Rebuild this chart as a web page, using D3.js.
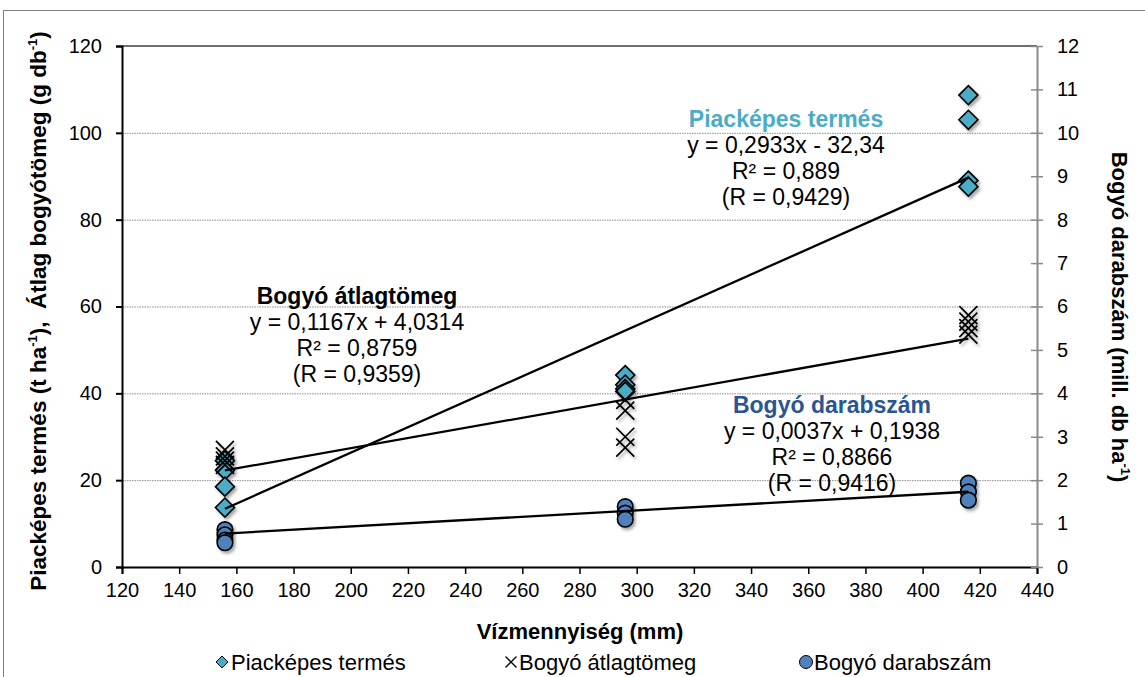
<!DOCTYPE html>
<html>
<head>
<meta charset="utf-8">
<script src="https://cdn.jsdelivr.net/npm/d3@7"></script>
<style>
  html, body { margin: 0; padding: 0; background: #fff; }
  svg { display: block; font-family: "Liberation Sans", Arial, sans-serif; }
</style>
</head>
<body>
<svg id="chart" width="1145" height="677"></svg>
<script>
// ---------- data ----------
const xTicks = [120, 140, 160, 180, 200, 220, 240, 260, 280, 300, 320, 340, 360, 380, 400, 420, 440];
const yLeftTicks = [0, 20, 40, 60, 80, 100, 120];
const yRightTicks = [0, 1, 2, 3, 4, 5, 6, 7, 8, 9, 10, 11, 12];

const piacX = [156, 156, 156, 156, 296, 296, 296, 296, 416, 416, 416, 416];
const piacY = [24.5, 22.3, 18.5, 13.7, 44.2, 42.0, 41.0, 40.4, 108.7, 103.0, 89.0, 87.6];

const atlagX = [156, 156, 156, 156, 296, 296, 296, 296, 416, 416, 416, 416];
const atlagY = [27.0, 25.5, 24.5, 23.5, 38.5, 36.0, 30.0, 27.5, 58.0, 56.5, 55.0, 53.5];

const darabX = [156, 156, 156, 156, 296, 296, 296, 416, 416, 416];
const darabY = [0.86, 0.74, 0.62, 0.56, 1.39, 1.24, 1.10, 1.93, 1.73, 1.54];

// trend lines: [slope, intercept], x range
const trendPiac = [0.2933, -32.34];
const trendAtlag = [0.1167, 4.0314];
const trendDarab = [0.0037, 0.1938];
const trendRange = [156, 416];

const seriesNames = ["Piacképes termés", "Bogyó átlagtömeg", "Bogyó darabszám"];
const annPiac = ["Piacképes termés", "y = 0,2933x - 32,34", "R² = 0,889", "(R = 0,9429)"];
const annAtlag = ["Bogyó átlagtömeg", "y = 0,1167x + 4,0314", "R² = 0,8759", "(R = 0,9359)"];
const annDarab = ["Bogyó darabszám", "y = 0,0037x + 0,1938", "R² = 0,8866", "(R = 0,9416)"];

// ---------- layout ----------
const svg = d3.select("#chart");
const L = 122, R = 1037, T = 46, B = 567;
const x = d3.scaleLinear().domain([120, 440]).range([L, R]);
const yL = d3.scaleLinear().domain([0, 120]).range([B, T]);
const yR = d3.scaleLinear().domain([0, 12]).range([B, T]);

const cPiac = "#4bacc6", cDarab = "#4f81bd", cDarabText = "#2a5592";

// defs: shadow
const defs = svg.append("defs");
const f = defs.append("filter").attr("id", "sh").attr("x", "-50%").attr("y", "-50%").attr("width", "200%").attr("height", "200%");
f.append("feDropShadow").attr("dx", 2).attr("dy", 2.5).attr("stdDeviation", 1.8).attr("flood-color", "#000").attr("flood-opacity", 0.35);

// outer border
svg.append("rect").attr("x", 3.5).attr("y", 10.5).attr("width", 1160).attr("height", 700)
  .attr("fill", "none").attr("stroke", "#7f7f7f").attr("stroke-width", 1);

// gridlines
svg.append("g").selectAll("line").data(yLeftTicks.filter(d => d > 0 && d < 120)).join("line")
  .attr("x1", L).attr("x2", R).attr("y1", d => yL(d) + 0.5).attr("y2", d => yL(d) + 0.5)
  .attr("stroke", "#8c8c8c").attr("stroke-width", 1).attr("stroke-dasharray", "1.5,1");

// top border of plot
svg.append("line").attr("x1", L).attr("x2", R).attr("y1", T).attr("y2", T)
  .attr("stroke", "#404040").attr("stroke-width", 1.5);

// left axis
const gL = svg.append("g").attr("transform", `translate(${L},0)`)
  .call(d3.axisLeft(yL).tickValues(yLeftTicks).tickSize(6).tickPadding(14));
gL.select(".domain").attr("stroke", "#000").attr("stroke-width", 2);
gL.selectAll(".tick line").attr("stroke", "#000").attr("stroke-width", 2);
gL.selectAll(".tick text").attr("font-size", 20).attr("fill", "#000").attr("font-family", "Liberation Sans, Arial, sans-serif");

// bottom axis
const gB = svg.append("g").attr("transform", `translate(0,${B})`)
  .call(d3.axisBottom(x).tickValues(xTicks).tickSize(7).tickPadding(9));
gB.select(".domain").attr("stroke", "#000").attr("stroke-width", 2);
gB.selectAll(".tick line").attr("stroke", "#000").attr("stroke-width", 1.5);
gB.selectAll(".tick text").attr("font-size", 20).attr("fill", "#000").attr("font-family", "Liberation Sans, Arial, sans-serif");

// right axis
const gR = svg.append("g").attr("transform", `translate(${R},0)`)
  .call(d3.axisRight(yR).tickValues(yRightTicks).tickSizeInner(6).tickSizeOuter(0).tickPadding(14));
gR.select(".domain").attr("stroke", "#8a8a8a").attr("stroke-width", 2);
gR.selectAll(".tick line").attr("stroke", "#8a8a8a").attr("stroke-width", 1.5).attr("x1", -6);
gR.selectAll(".tick text").attr("font-size", 20).attr("fill", "#000").attr("font-family", "Liberation Sans, Arial, sans-serif");

// markers
function diamondPath(cx, cy, r) {
  return `M${cx},${cy - r}L${cx + r},${cy}L${cx},${cy + r}L${cx - r},${cy}Z`;
}
function xPath(cx, cy, r) {
  return `M${cx - r},${cy - r}L${cx + r},${cy + r}M${cx - r},${cy + r}L${cx + r},${cy - r}`;
}

const gM = svg.append("g").attr("filter", "url(#sh)");
gM.selectAll("path.dia").data(piacX.map((d, i) => [d, piacY[i]])).join("path")
  .attr("class", "dia")
  .attr("d", d => diamondPath(x(d[0]), yL(d[1]), 9.5))
  .attr("fill", cPiac).attr("stroke", "#000").attr("stroke-width", 1.6);

gM.selectAll("path.xm").data(atlagX.map((d, i) => [d, atlagY[i]])).join("path")
  .attr("class", "xm")
  .attr("d", d => xPath(x(d[0]), yL(d[1]), 9))
  .attr("fill", "none").attr("stroke", "#000").attr("stroke-width", 1.7);

gM.selectAll("circle").data(darabX.map((d, i) => [d, darabY[i]])).join("circle")
  .attr("cx", d => x(d[0])).attr("cy", d => yR(d[1])).attr("r", 7.8)
  .attr("fill", cDarab).attr("stroke", "#000").attr("stroke-width", 1.6);

// trend lines
function trend(params, scale) {
  svg.append("line")
    .attr("x1", x(trendRange[0])).attr("y1", scale(params[0] * trendRange[0] + params[1]))
    .attr("x2", x(trendRange[1])).attr("y2", scale(params[0] * trendRange[1] + params[1]))
    .attr("stroke", "#000").attr("stroke-width", 2.3);
}
trend(trendPiac, yL);
trend(trendAtlag, yL);
trend(trendDarab, yR);

// annotations
function ann(lines, cx, y0, color) {
  const g = svg.append("g").attr("font-size", 23).attr("text-anchor", "middle");
  lines.forEach((t, i) => {
    g.append("text").attr("x", cx).attr("y", y0 + i * 26)
      .attr("font-weight", i === 0 ? "bold" : "normal")
      .attr("fill", i === 0 ? color : "#000")
      .text(t);
  });
}
ann(annPiac, 786, 127, cPiac);
ann(annAtlag, 357, 304, "#000");
ann(annDarab, 832, 413, cDarabText);

// axis titles
svg.append("text").attr("x", 580).attr("y", 639).attr("text-anchor", "middle")
  .attr("font-size", 22).attr("font-weight", "bold").text("Vízmennyiség (mm)");

const lt = svg.append("text").attr("transform", "translate(46,311) rotate(-90)")
  .attr("text-anchor", "middle").attr("font-size", 22.5).attr("font-weight", "bold");
lt.append("tspan").text("Piacképes termés (t ha");
lt.append("tspan").attr("font-size", 13).attr("dy", -9).text("-1");
lt.append("tspan").attr("dy", 9).text("),\u00a0\u00a0Átlag bogyótömeg (g db");
lt.append("tspan").attr("font-size", 13).attr("dy", -9).text("-1");
lt.append("tspan").attr("dy", 9).text(")");

const rt = svg.append("text").attr("transform", "translate(1112,317) rotate(90)")
  .attr("text-anchor", "middle").attr("font-size", 22).attr("font-weight", "bold");
rt.append("tspan").text("Bogyó darabszám (mill. db ha");
rt.append("tspan").attr("font-size", 13).attr("dy", -9).text("-1");
rt.append("tspan").attr("dy", 9).text(")");

// legend
const lg = svg.append("g").attr("font-size", 22);
const lgY = 662;
lg.append("path").attr("d", diamondPath(222, lgY, 6)).attr("fill", cPiac).attr("stroke", "#000").attr("stroke-width", 1);
lg.append("text").attr("x", 231).attr("y", lgY + 8).text(seriesNames[0]);
lg.append("path").attr("d", xPath(511, lgY, 5.5)).attr("fill", "none").attr("stroke", "#000").attr("stroke-width", 1.3);
lg.append("text").attr("x", 519).attr("y", lgY + 8).text(seriesNames[1]);
lg.append("circle").attr("cx", 806).attr("cy", lgY).attr("r", 6.5).attr("fill", cDarab).attr("stroke", "#000").attr("stroke-width", 1);
lg.append("text").attr("x", 814).attr("y", lgY + 8).text(seriesNames[2]);
</script>
</body>
</html>
